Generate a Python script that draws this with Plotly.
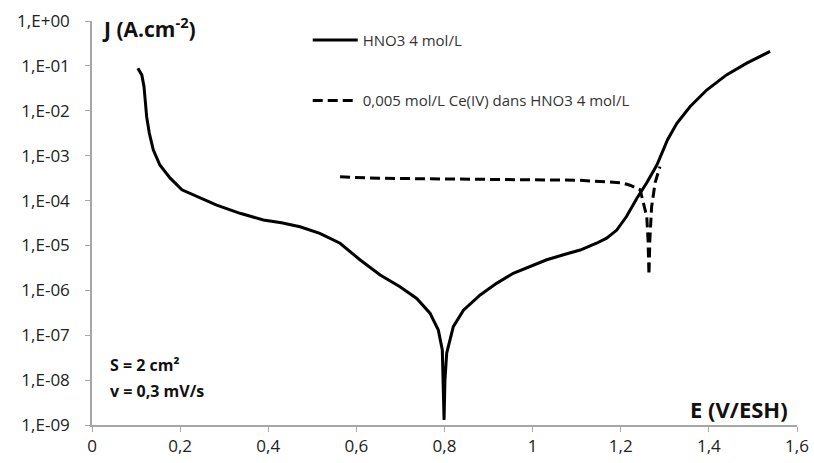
import plotly.graph_objects as go

# HNO3 4 mol/L (solid)
E_hno3 = [0.104, 0.113, 0.118, 0.120, 0.124, 0.130, 0.139, 0.154, 0.177, 0.204, 0.238, 0.283, 0.336,
          0.389, 0.430, 0.472, 0.517, 0.563, 0.608, 0.654, 0.699, 0.737, 0.767, 0.786, 0.795, 0.797,
          0.799, 0.801, 0.805, 0.820, 0.843, 0.881, 0.919, 0.956, 0.994, 1.032, 1.070, 1.108, 1.145,
          1.168, 1.191, 1.213, 1.236, 1.259, 1.282, 1.306, 1.327, 1.357, 1.395, 1.440, 1.486, 1.539]
J_hno3 = [8.9e-2, 6.3e-2, 3.5e-2, 1.7e-2, 7.4e-3, 3.2e-3, 1.35e-3, 6.2e-4, 3.2e-4, 1.74e-4, 1.23e-4,
          7.9e-5, 5.2e-5, 3.7e-5, 3.2e-5, 2.6e-5, 1.86e-5, 1.12e-5, 4.8e-6, 2.2e-6, 1.2e-6, 6.6e-7,
          3.1e-7, 1.3e-7, 4.7e-8, 1.0e-8, 1.3e-9, 1.0e-8, 4.0e-8, 1.55e-7, 3.6e-7, 7.9e-7, 1.45e-6,
          2.4e-6, 3.4e-6, 4.8e-6, 6.2e-6, 7.9e-6, 1.12e-5, 1.45e-5, 2.2e-5, 4.4e-5, 1.1e-4, 2.5e-4,
          6.2e-4, 2.24e-3, 5.2e-3, 1.23e-2, 2.9e-2, 6.3e-2, 1.15e-1, 2.1e-1]

# 0,005 mol/L Ce(IV) dans HNO3 4 mol/L (dashed)
E_ce = [0.563, 0.62, 0.70, 0.80, 0.90, 1.00, 1.10, 1.15, 1.20, 1.221, 1.244, 1.259, 1.262, 1.264,
        1.266, 1.270, 1.278, 1.289]
J_ce = [3.4e-4, 3.2e-4, 3.1e-4, 3.0e-4, 2.95e-4, 2.9e-4, 2.85e-4, 2.7e-4, 2.5e-4, 2.2e-4, 1.74e-4,
        4.4e-5, 1.3e-5, 2.2e-6, 1.3e-5, 7.2e-5, 2.5e-4, 5.7e-4]

x_ticks = [0, 0.2, 0.4, 0.6, 0.8, 1.0, 1.2, 1.4, 1.6]
x_labels = ["0", "0,2", "0,4", "0,6", "0,8", "1", "1,2", "1,4", "1,6"]
y_ticks = [1e0, 1e-1, 1e-2, 1e-3, 1e-4, 1e-5, 1e-6, 1e-7, 1e-8, 1e-9]
y_labels = ["1,E+00", "1,E-01", "1,E-02", "1,E-03", "1,E-04", "1,E-05", "1,E-06", "1,E-07",
            "1,E-08", "1,E-09"]

FONT = "Open Sans"

fig = go.Figure()
fig.add_trace(go.Scatter(x=E_hno3, y=J_hno3, mode="lines", name="HNO3 4 mol/L",
                         line=dict(color="black", width=3), legendgroup="a"))
fig.add_trace(go.Scatter(x=E_ce, y=J_ce, mode="lines", name="0,005 mol/L Ce(IV) dans HNO3 4 mol/L",
                         line=dict(color="black", width=3, dash="10px,5px"), legendgroup="b"))

fig.update_layout(
    width=814, height=463,
    margin=dict(l=92, r=17, t=21, b=38),
    paper_bgcolor="white", plot_bgcolor="white",
    font=dict(family=FONT, color="#222222"),
    showlegend=True,
    legend=dict(x=0.306, y=0.993, xanchor="left", yanchor="top", bgcolor="rgba(0,0,0,0)",
                font=dict(size=15, color="#333333", family=FONT), tracegroupgap=38,
                traceorder="grouped", itemwidth=45),
    xaxis=dict(range=[0, 1.6], tickvals=x_ticks, ticktext=x_labels, showgrid=False,
               zeroline=False, showline=True, linecolor="#a6a6a6", linewidth=1.5,
               ticks="outside", ticklen=5, tickcolor="#a6a6a6", automargin=False,
               tickfont=dict(size=17, family=FONT, color="#222222")),
    yaxis=dict(type="log", range=[-9, 0], tickvals=y_ticks, ticktext=y_labels, showgrid=False,
               zeroline=False, showline=True, linecolor="#a6a6a6", linewidth=1.5,
               ticks="outside", ticklen=5, tickcolor="#a6a6a6", ticklabelstandoff=12,
               automargin=False,
               tickfont=dict(size=17, family=FONT, color="#222222")),
    annotations=[
        dict(text="<b>J (A.cm<sup>-2</sup>)</b>", x=0.011, y=0.985, xref="paper", yref="paper",
             xanchor="left", yanchor="middle", showarrow=False, font=dict(size=21, family=FONT, color="#111")),
        dict(text="<b>E (V/ESH)</b>", x=0.99, y=0.04, xref="paper", yref="paper",
             xanchor="right", yanchor="middle", showarrow=False, font=dict(size=22, family=FONT, color="#111")),
        dict(text="<b>S = 2 cm²</b>", x=0.022, y=0.149, xref="paper", yref="paper",
             xanchor="left", yanchor="middle", showarrow=False, font=dict(size=16, family=FONT, color="#111")),
        dict(text="<b>v = 0,3 mV/s</b>", x=0.022, y=0.084, xref="paper", yref="paper",
             xanchor="left", yanchor="middle", showarrow=False, font=dict(size=16, family=FONT, color="#111")),
    ],
)

fig.write_html("out.html", post_script="document.body.style.margin='0';",
               config={"displayModeBar": False})
